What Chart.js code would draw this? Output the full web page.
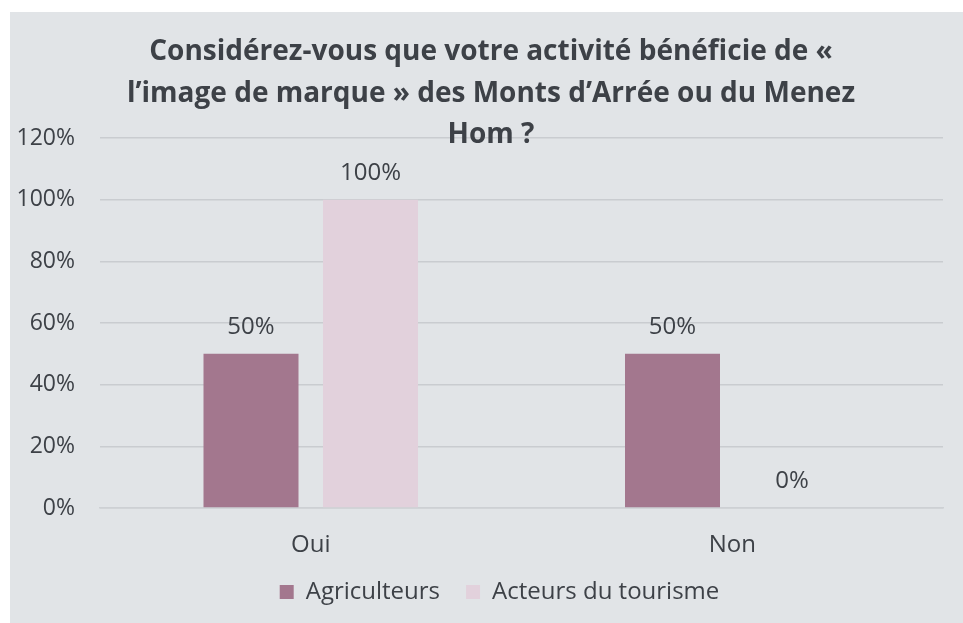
<!DOCTYPE html>
<html>
<head>
<meta charset="utf-8">
<script src="https://cdn.jsdelivr.net/npm/chart.js@4"></script>
<style>
  html, body { margin: 0; padding: 0; background: #fff; }
  #panel { position: absolute; left: 10px; top: 12px; width: 953px; height: 611px; background: #e1e4e7; }
</style>
</head>
<body>
<div id="panel"><canvas id="chart" width="953" height="611"></canvas></div>
<script>
const categories = ['Oui', 'Non'];
const agriculteurs = [50, 50];
const acteursTourisme = [100, 0];
const seriesNames = ['Agriculteurs', 'Acteurs du tourisme'];
const titleLines = [
    'Considérez-vous que votre activité bénéficie de «',
    'l’image de marque » des Monts d’Arrée ou du Menez',
    'Hom ?'
];

const textColor = '#3d4147';
const fontFamily = '"Open Sans", sans-serif';

// title drawn by hand, it overlaps the top of the plot like in the original
const titlePlugin = {
    id: 'titleLines',
    afterLayout(chart) {
        // legend sits a bit right of centre in the original
        chart.legend.left += 23;
        chart.legend.right += 23;
    },
    afterDraw(chart) {
        const ctx = chart.ctx;
        ctx.save();
        ctx.fillStyle = textColor;
        ctx.font = 'bold 28px ' + fontFamily;
        ctx.textAlign = 'center';
        ctx.textBaseline = 'middle';
        titleLines.forEach((line, i) => {
            ctx.fillText(line, 481, 40.5 + i * 41.5);
        });
        ctx.restore();
    }
};

const valueLabels = {
    id: 'valueLabels',
    afterDatasetsDraw(chart) {
        const ctx = chart.ctx;
        ctx.save();
        ctx.fillStyle = textColor;
        ctx.font = '24px ' + fontFamily;
        ctx.textAlign = 'center';
        ctx.textBaseline = 'middle';
        chart.data.datasets.forEach((ds, di) => {
            chart.getDatasetMeta(di).data.forEach((bar, i) => {
                ctx.fillText(ds.data[i] + '%', bar.x, bar.y - 27);
            });
        });
        ctx.restore();
    }
};

new Chart(document.getElementById('chart'), {
    type: 'bar',
    data: {
        labels: categories,
        datasets: [
            { label: seriesNames[0], data: agriculteurs, backgroundColor: '#a3778e' },
            { label: seriesNames[1], data: acteursTourisme, backgroundColor: '#e2d1dc' }
        ]
    },
    options: {
        responsive: false,
        animation: false,
        categoryPercentage: 0.567,
        barPercentage: 0.795,
        layout: { padding: { top: 126, right: 20, bottom: 9, left: 0 } },
        scales: {
            x: {
                afterFit(scale) { scale.height = 46; },
                grid: { display: false },
                border: { color: '#cdd0d4', width: 1.5 },
                ticks: { color: textColor, font: { family: fontFamily, size: 24 }, padding: 15 }
            },
            y: {
                min: 0,
                max: 120,
                afterFit(scale) { scale.width = 90; },
                grid: { color: '#c9ccd0', lineWidth: 1.5, drawTicks: false },
                border: { display: false },
                ticks: {
                    stepSize: 20,
                    color: textColor,
                    padding: 25,
                    font: { family: fontFamily, size: 23 },
                    callback: v => v + '%'
                }
            }
        },
        plugins: {
            legend: {
                position: 'bottom',
                labels: {
                    color: textColor,
                    font: { family: fontFamily, size: 24 },
                    boxWidth: 14,
                    boxHeight: 14,
                    padding: 26
                }
            },
            tooltip: { enabled: false }
        }
    },
    plugins: [titlePlugin, valueLabels]
});
</script>
</body>
</html>
